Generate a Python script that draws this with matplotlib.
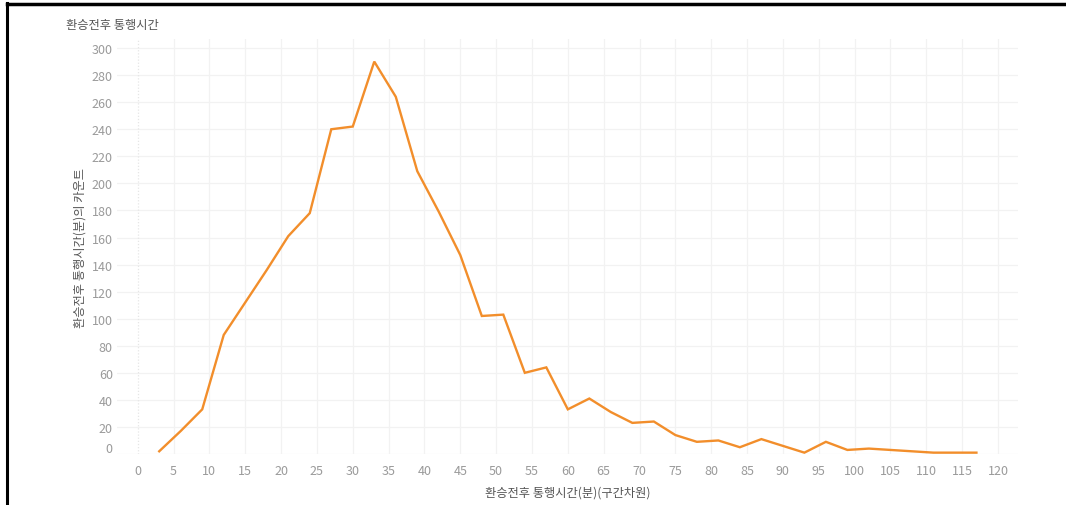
import matplotlib
matplotlib.use("Agg")
import matplotlib.pyplot as plt
import matplotlib.transforms as mtransforms
from matplotlib.lines import Line2D

plt.rcParams['font.family'] = ['Noto Sans CJK KR', 'DejaVu Sans']

# Data
minutes = [3, 6, 9, 12, 15, 18, 21, 24, 27, 30, 33, 36, 39, 42, 45, 48, 51, 54, 57, 60,
           63, 66, 69, 72, 75, 78, 81, 84, 87, 90, 93, 96, 99, 102, 105, 108, 111, 114, 117]
counts = [2, 17, 33, 88, 112, 136, 161, 178, 240, 242, 290, 264, 209, 179, 147, 102, 103, 60, 64, 33,
          41, 31, 23, 24, 14, 9, 10, 5, 11, 6, 1, 9, 3, 4, 3, 2, 1, 1, 1]
x_ticks = list(range(0, 121, 5))
y_ticks = list(range(0, 301, 20))

title = "환승전후 통행시간"
x_label = "환승전후 통행시간(분)(구간차원)"
y_label = "환승전후 통행시간(분)의 카운트"

W, H = 1066, 506
fig = plt.figure(figsize=(W / 100, H / 100), dpi=100)
fig.patch.set_facecolor('white')

ax = fig.add_axes([117 / W, 1 - 455 / H, (1018 - 117) / W, (455 - 40) / H])
ax.set_xlim(-2.89, 122.8)
ax.set_ylim(0, 306.7)

for s in ax.spines.values():
    s.set_visible(False)

grid_c = '#F2F2F2'
for v in y_ticks:
    ax.axhline(v, color=grid_c, lw=0.9, zorder=0)
for v in x_ticks:
    if v == 0:
        ax.axvline(v, color='#E6E6E6', lw=0.9, ls=(0, (1, 1.5)), zorder=0)
    else:
        ax.axvline(v, color=grid_c, lw=0.9, zorder=0)

ax.plot(minutes, counts, color='#F28E2B', lw=1.7, clip_on=False, zorder=3,
        solid_joinstyle='miter')

tick_c = '#9A9A9A'
ax.set_xticks(x_ticks)
ax.set_xticklabels([str(v) for v in x_ticks])
ax.set_yticks(y_ticks)
ax.set_yticklabels([str(v) for v in y_ticks])
ax.tick_params(axis='both', length=0, colors=tick_c, labelsize=9)
ax.tick_params(axis='x', pad=7)
ax.tick_params(axis='y', pad=3)

# shift the "0" y label upward slightly
lbl0 = ax.get_yticklabels()[0]
lbl0.set_transform(lbl0.get_transform() + mtransforms.ScaledTranslation(0, 7 / 100, fig.dpi_scale_trans))

ax.set_xlabel(x_label, color='#555555', fontsize=8.8, labelpad=6)
ax.set_ylabel(y_label, color='#555555', fontsize=8.8, labelpad=4)

fig.text(66 / W, 1 - 25 / H, title, color='#555555', fontsize=8.8, ha='left', va='center')

# screenshot frame (left and top)
fig.add_artist(Line2D([7 / W, 7 / W], [0, 1 - 4 / H], transform=fig.transFigure, color='black', lw=2.2))
fig.add_artist(Line2D([7 / W, 1], [1 - 4.5 / H, 1 - 4.5 / H], transform=fig.transFigure, color='black', lw=2.5))

fig.savefig('out.png', dpi=100, facecolor='white')
